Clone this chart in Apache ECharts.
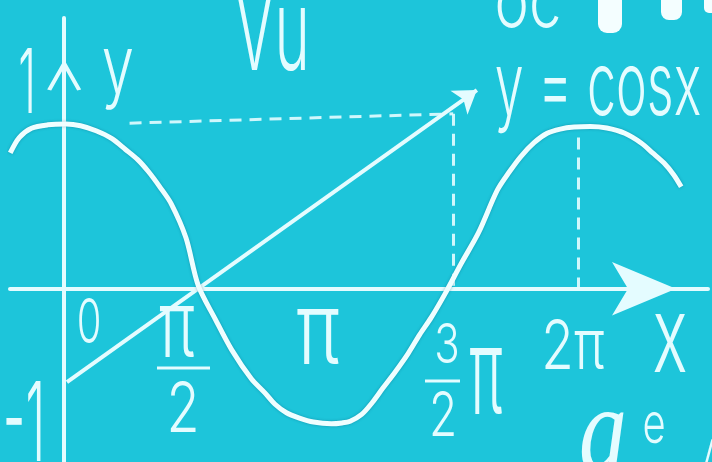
<!DOCTYPE html>
<html>
<head>
<meta charset="utf-8">
<script src="https://cdn.jsdelivr.net/npm/echarts@6/dist/echarts.min.js"></script>
<style>
html,body{margin:0;padding:0;background:#1dc5da;}
#main{width:712px;height:462px;}
</style>
</head>
<body>
<div id="main"></div>
<script>
// hand drawn cosine (x in radians)
var curveX = [-0.66,-0.55,-0.40,-0.20,0.02,0.20,0.39,0.58,0.75,0.90,1.03,1.17,1.31,1.49,1.64,1.85,2.05,2.29,2.45,2.58,2.72,2.87,3.05,3.27,3.40,3.50,3.64,3.77,3.90,4.05,4.21,4.35,4.49,4.66,4.86,5.07,5.30,5.45,5.59,5.75,5.91,6.07,6.24,6.44,6.64,6.86,7.06,7.20,7.34,7.46,7.55];
var curveY = [0.80,0.89,0.945,0.965,0.97,0.96,0.93,0.885,0.82,0.76,0.69,0.60,0.50,0.30,0.02,-0.18,-0.36,-0.53,-0.61,-0.68,-0.73,-0.76,-0.785,-0.795,-0.79,-0.78,-0.74,-0.67,-0.585,-0.49,-0.38,-0.27,-0.17,-0.03,0.15,0.33,0.58,0.69,0.78,0.86,0.915,0.94,0.952,0.955,0.946,0.915,0.858,0.80,0.74,0.67,0.60];

// guide lines
var dashTop = [[0.80, 0.975], [4.76, 1.03]];
var dashMid = [[4.76, 1.03], [4.76, 0]];
var dashEnd = [[6.29, 0.89], [6.29, 0]];
var arrowLine = [[0.034, -0.55], [5.05, 1.17]];

var tickLabels = ['0', 'π', '2', 'π', '3', '2', 'π', '2π'];
var axisNames = ['x', 'y'];
var title = 'y = cosx';

var C = '#e4fcff';
var FONT = 'Inter, "Liberation Sans", Arial, sans-serif';
var chart = echarts.init(document.getElementById('main'));

function txt(t, x, y, size, sy, fam, weight) {
  return {
    type: 'text', x: x, y: y, scaleY: sy, silent: true,
    style: {
      text: t, fill: C,
      font: (weight || '300') + ' ' + size + 'px ' + (fam || FONT),
      textAlign: 'center', align: 'center',
      textVerticalAlign: 'middle', verticalAlign: 'middle'
    }
  };
}
function bar(x1, x2, y) {
  return { type: 'line', silent: true, shape: {x1: x1, y1: y, x2: x2, y2: y}, style: {stroke: C, lineWidth: 3} };
}
function dashLines(name, pts) {
  return {
    name: name, type: 'lines', coordinateSystem: 'cartesian2d', silent: true,
    symbol: 'none',
    lineStyle: {color: C, width: 3, type: [12, 8], opacity: 0.9},
    data: [{coords: pts}]
  };
}

var curve = curveX.map(function (x, i) { return [x, curveY[i]]; });

var option = {
  backgroundColor: '#1dc5da',
  animation: false,
  grid: {left: 10, right: 4, top: 18, bottom: 0},
  xAxis: {
    type: 'value', min: -0.663, max: 7.878,
    axisLine: {
      onZero: true, symbol: ['none', 'arrow'], symbolSize: [40, 64], symbolOffset: [0, -32],
      lineStyle: {color: C, width: 4}
    },
    axisTick: {show: false}, axisLabel: {show: false}, splitLine: {show: false}
  },
  yAxis: {
    type: 'value', min: -1.02, max: 1.594,
    axisLine: {
      onZero: true, symbol: ['none', 'path://M0,30 L17,0 L34,30 L30,31 L17,8 L4,31 Z'],
      symbolSize: [34, 31], symbolOffset: [0, -57],
      lineStyle: {color: C, width: 4}
    },
    axisTick: {show: false}, axisLabel: {show: false}, splitLine: {show: false}
  },
  series: [
    dashLines('top', dashTop),
    dashLines('mid', dashMid),
    dashLines('end', dashEnd),
    {
      name: 'arrow', type: 'lines', coordinateSystem: 'cartesian2d', silent: true,
      symbol: ['none', 'arrow'], symbolSize: [16, 22],
      lineStyle: {color: C, width: 4, opacity: 1},
      data: [{coords: arrowLine}]
    },
    {
      name: 'cos', type: 'line', data: curve, smooth: 0.3, showSymbol: false, silent: true,
      lineStyle: {color: '#effeff', width: 5, shadowColor: 'rgba(0,70,100,0.35)', shadowBlur: 3}
    }
  ],
  graphic: [
    // background scribbles cut by the frame
    txt('Vu', 272, 36, 60, 1.9),
    txt('oc', 528, 4, 58, 1.3),
    {type: 'rect', silent: true, shape: {x: 598, y: -10, width: 24, height: 43, r: 9}, style: {fill: '#f4feff'}},
    {type: 'rect', silent: true, shape: {x: 661, y: -10, width: 21, height: 30, r: 8}, style: {fill: '#f4feff'}},
    {type: 'rect', silent: true, shape: {x: 704, y: -10, width: 12, height: 23, r: 5}, style: {fill: '#f4feff'}},
    txt('a', 603, 438, 96, 1.3, '"Liberation Serif", serif', 'italic 400'),
    txt('e', 654, 426, 40, 1.4),
    txt('/', 708, 458, 40, 1),
    // axis numbers and names
    txt('1', 27, 86, 45, 2.0),
    txt('-1', 24, 428, 50, 2.2),
    txt(axisNames[1], 118, 69, 58, 1.4),
    txt(axisNames[0], 670, 340, 66, 1.6),
    txt(title, 598, 88, 52, 1.7),
    // tick labels
    txt(tickLabels[0], 89, 324, 40, 1.55),
    txt(tickLabels[1], 177, 329, 62, 1.5),
    bar(157, 210, 368),
    txt(tickLabels[2], 183, 411, 54, 1.3),
    txt(tickLabels[3], 318, 334, 75, 1.35),
    txt(tickLabels[4], 447, 346, 42, 1.32),
    bar(425, 460, 381),
    txt(tickLabels[5], 443, 418, 46, 1.33),
    txt(tickLabels[6], 486, 377, 58, 2.1),
    txt(tickLabels[7], 573, 348, 53, 1.3)
  ]
};
chart.setOption(option);
</script>
</body>
</html>
